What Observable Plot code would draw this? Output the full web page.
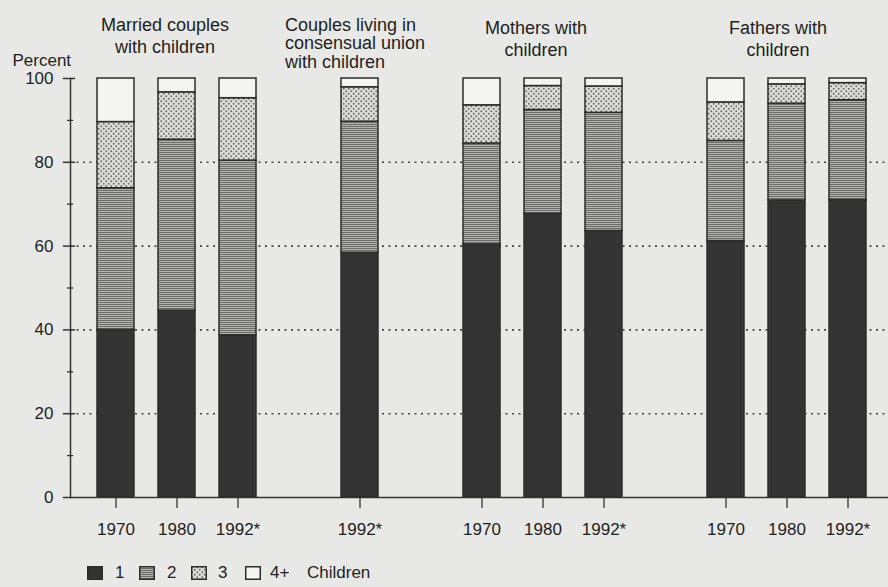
<!DOCTYPE html>
<html>
<head>
<meta charset="utf-8">
<script src="https://cdn.jsdelivr.net/npm/d3@7"></script>
<script src="https://cdn.jsdelivr.net/npm/@observablehq/plot@0.6"></script>
<style>
  body { margin: 0; background: #e8e8e6; font-family: "Liberation Sans", Arial, sans-serif; color: #1e1e1e; }
  #chart svg { display: block; }
  #legend { position: relative; width: 888px; height: 27px; font-size: 17px; }
  #legend .sw { position: absolute; top: 6px; width: 16px; height: 14px; }
  #legend .lb { position: absolute; top: 4px; line-height: 18px; }
</style>
</head>
<body>
<div id="chart"></div>
<div id="legend"></div>
<script>
// ---- data ----
const slots = ["M1970","M1980","M1992","gapA","C1992","gapB","Mo1970","Mo1980","Mo1992","gapC","F1970","F1980","F1992"];
const barSlots = ["M1970","M1980","M1992","C1992","Mo1970","Mo1980","Mo1992","F1970","F1980","F1992"];
const yearLabels = ["1970","1980","1992*","1992*","1970","1980","1992*","1970","1980","1992*"];
const categories = ["1","2","3","4+"];
const oneChild      = [40.0, 44.6, 38.7, 58.4, 60.4, 67.7, 63.6, 61.2, 70.9, 71.0];
const twoChildren   = [33.8, 40.8, 41.7, 31.3, 24.1, 24.8, 28.2, 23.9, 23.1, 23.8];
const threeChildren = [15.8, 11.3, 14.9,  8.2,  9.1,  5.7,  6.3,  9.2,  4.6,  4.1];
const fourPlus      = [10.4,  3.3,  4.7,  2.1,  6.4,  1.8,  1.9,  5.7,  1.4,  1.1];
const yTicks = [0, 20, 40, 60, 80, 100];
const yMinorTicks = [10, 30, 50, 70, 90];
const gridValues = [20, 40, 60, 80];
const groupTitles = [
  ["Married couples", "with children"],
  ["Couples living in", "consensual union", "with children"],
  ["Mothers with", "children"],
  ["Fathers with", "children"]
];
const titleSlots = ["M1980", "C1992", "Mo1980", "F1980"];
const legendLabels = ["1", "2", "3", "4+"];
const legendTitle = "Children";

// ---- table ----
const seriesValues = [oneChild, twoChildren, threeChildren, fourPlus];
const rows = barSlots.flatMap((slot, i) =>
  categories.map((cat, k) => ({slot, cat, value: seriesValues[k][i]}))
);

const fills = ["#333333", "url(#pat2)", "url(#pat3)", "#f4f4f2"];
const titleStyle = [
  {dx: -12, textAnchor: "middle", lineHeight: 1.17, dy: -62},
  {dx: -75, textAnchor: "start", lineHeight: 1.03, dy: -61},
  {dx: -7, textAnchor: "middle", lineHeight: 1.22, dy: -60},
  {dx: -9, textAnchor: "middle", lineHeight: 1.22, dy: -60}
];

const plot = Plot.plot({
  width: 888,
  height: 560,
  marginLeft: 70,
  marginRight: 0,
  marginTop: 78,
  marginBottom: 63,
  style: {fontFamily: "'Liberation Sans', Arial, sans-serif", background: "transparent", color: "#1e1e1e", overflow: "visible"},
  x: {domain: slots, paddingInner: 0.392, paddingOuter: 0.328, align: 0.55},
  y: {domain: [0, 100]},
  color: {type: "ordinal", domain: categories, range: fills},
  marks: [
    Plot.ruleY(gridValues, {stroke: "#444", strokeWidth: 1.6, strokeDasharray: "2,4.5"}),
    Plot.barY(rows, {x: "slot", y: "value", fill: "cat", stroke: "#2c2c2c", strokeWidth: 1.5}),
    Plot.frame({anchor: "left", stroke: "#333", strokeWidth: 1.5}),
    Plot.frame({anchor: "bottom", stroke: "#333", strokeWidth: 1.5}),
    // inward parts of the y ticks
    Plot.tickY(yTicks.slice(1), {stroke: "#333", strokeWidth: 1.5, insetRight: 813}),
    Plot.tickY(yMinorTicks, {stroke: "#333", strokeWidth: 1.3, insetRight: 815}),
    // outward parts + labels
    Plot.axisY(yMinorTicks, {tickSize: 3, tickFormat: () => "", label: null, stroke: "#333", strokeWidth: 1.3}),
    Plot.axisY(yTicks, {tickSize: 7, tickPadding: 10, fontSize: 17, label: null, stroke: "#333", strokeWidth: 1.5}),
    Plot.axisX(barSlots, {tickSize: 11, tickPadding: 14, fontSize: 17, label: null, stroke: "#333", strokeWidth: 1.3,
      tickFormat: d => yearLabels[barSlots.indexOf(d)]}),
    Plot.text(["Percent"], {frameAnchor: "top-left", dx: -58, dy: -25, textAnchor: "start", fontSize: 17, fill: "#1e1e1e"}),
    ...groupTitles.map((lines, i) => Plot.text([lines.join("\n")], {
      x: () => titleSlots[i], y: () => 100, text: d => d,
      lineAnchor: "top", fontSize: 18, fill: "#1e1e1e", ...titleStyle[i]
    }))
  ]
});

const defs = `<defs>
  <pattern id="pat2" width="4" height="2" patternUnits="userSpaceOnUse">
    <rect width="4" height="2" fill="#b2b2b0"/>
    <rect width="4" height="1" fill="#6c6c6a"/>
  </pattern>
  <pattern id="pat3" width="5" height="5" patternUnits="userSpaceOnUse">
    <rect width="5" height="5" fill="#dcdcda"/>
    <circle cx="1.25" cy="1.25" r="0.95" fill="#6a6a6a"/>
    <circle cx="3.75" cy="3.75" r="0.95" fill="#6a6a6a"/>
  </pattern>
</defs>`;
plot.insertAdjacentHTML("afterbegin", defs);
document.getElementById("chart").appendChild(plot);

// ---- legend ----
const legend = document.getElementById("legend");
const swLeft = [87, 139, 191, 245];
const lbLeft = [115, 167, 218, 270];
categories.forEach((cat, i) => {
  const sw = document.createElementNS("http://www.w3.org/2000/svg", "svg");
  sw.setAttribute("class", "sw");
  sw.setAttribute("width", 16); sw.setAttribute("height", 14);
  sw.style.left = swLeft[i] + "px";
  sw.innerHTML = `<rect x="0.75" y="0.75" width="14.5" height="12.5" fill="${fills[i]}" stroke="#2c2c2c" stroke-width="1.5"/>`;
  legend.appendChild(sw);
  const lb = document.createElement("div");
  lb.className = "lb";
  lb.style.left = lbLeft[i] + "px";
  lb.textContent = legendLabels[i];
  legend.appendChild(lb);
});
const lt = document.createElement("div");
lt.className = "lb";
lt.style.left = "307px";
lt.textContent = legendTitle;
legend.appendChild(lt);
</script>
</body>
</html>
